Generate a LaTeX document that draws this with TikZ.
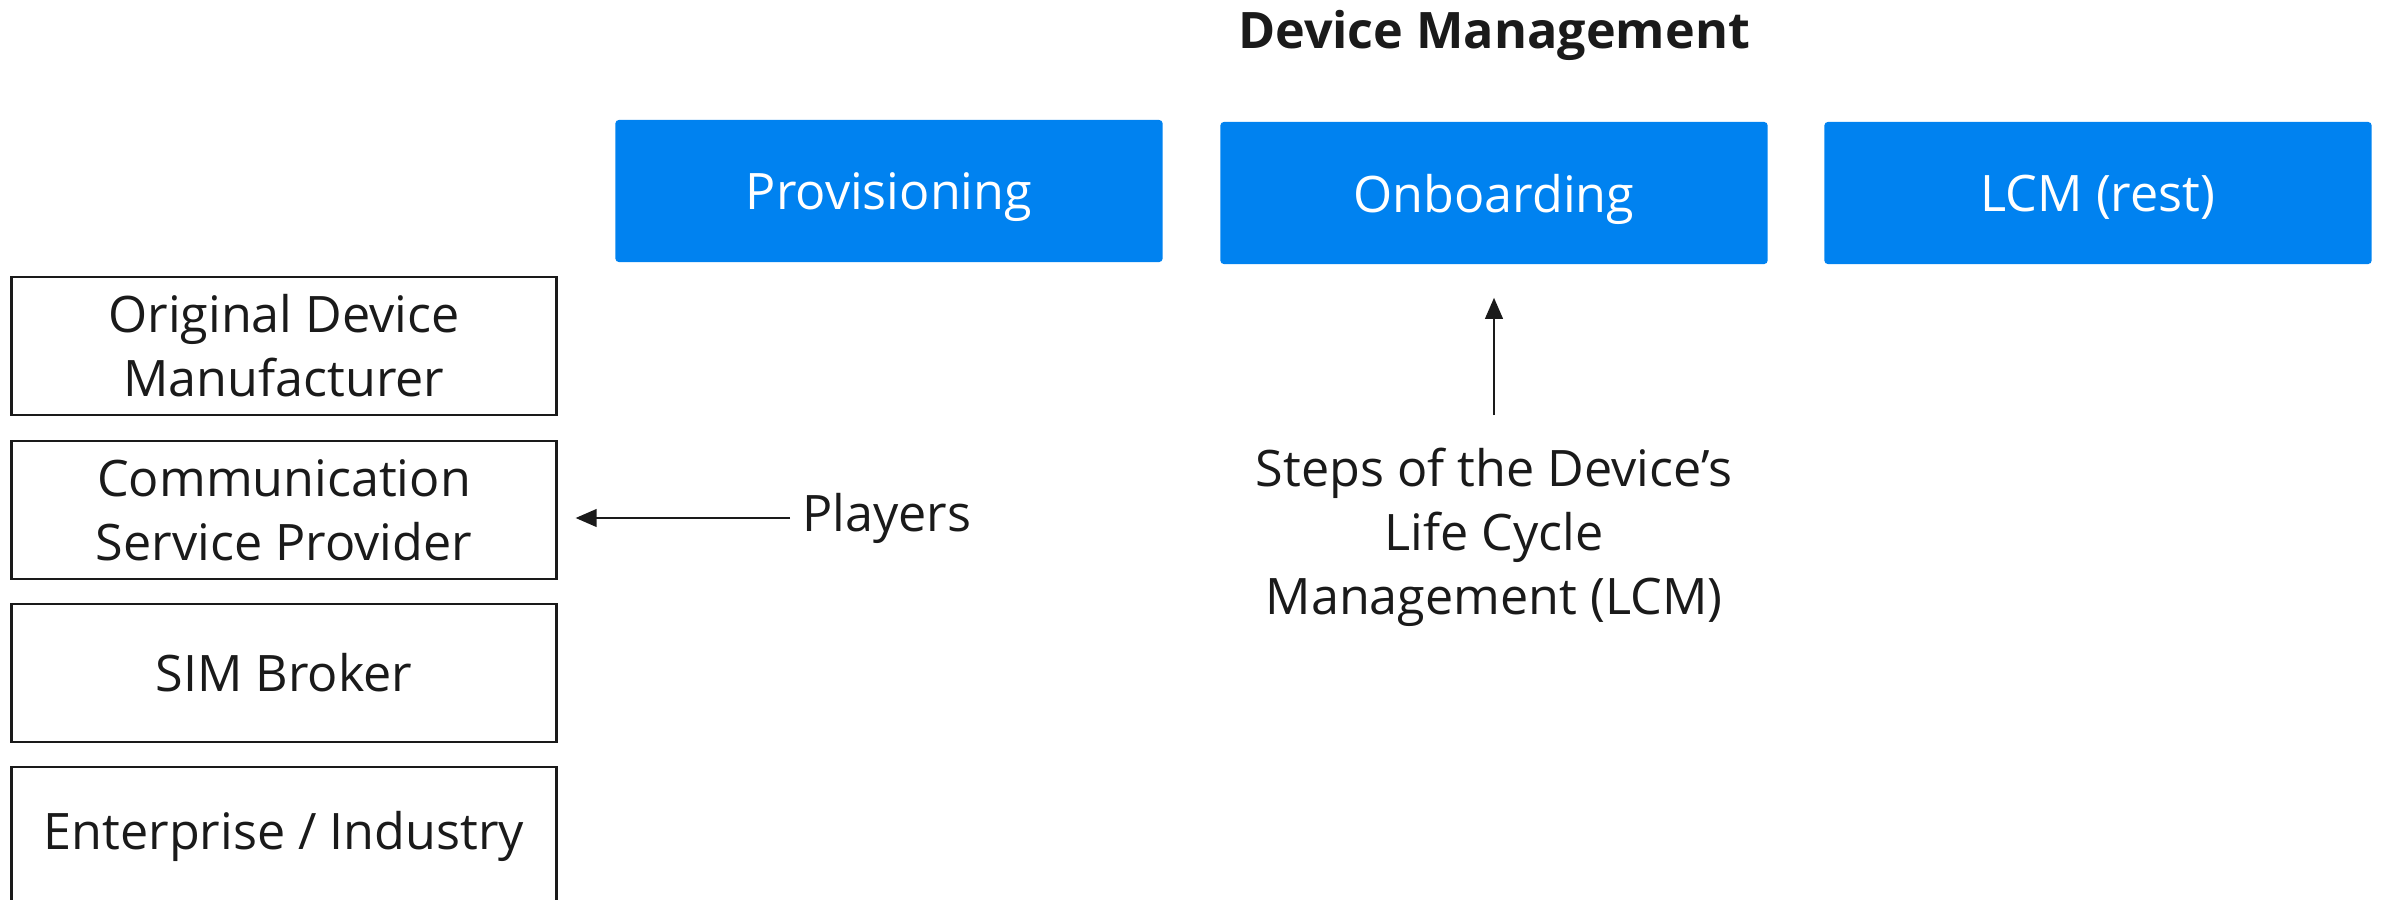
\documentclass[tikz,border=0pt]{standalone}
\usepackage{fontspec}
\setmainfont{Open Sans}
\usetikzlibrary{arrows.meta, positioning}
\definecolor{dmBlue}{HTML}{0082F0}
\definecolor{dmInk}{HTML}{1A1A1A}

\begin{document}
\begin{tikzpicture}[x=0.01cm, y=-0.01cm,
  every node/.style={font=\fontsize{14.3pt}{18.2pt}\selectfont, text=dmInk},
  stepbox/.style={fill=dmBlue, text=white, minimum width=5.47cm, minimum height=1.42cm,
                  inner sep=0pt, text depth=0pt, rounded corners=1pt},
  player/.style={draw=dmInk, line width=0.8pt, minimum width=5.44cm, minimum height=1.38cm,
                 inner sep=0pt, align=center},
  pointer/.style={-{Triangle[length=6pt, width=5pt]}, line width=0.7pt, dmInk}]
  \clip (0,0) rectangle (2384,900);
  % title
  \node[font=\fontsize{14.3pt}{18.2pt}\selectfont\bfseries, anchor=base] (title) at (1494,48) {Device Management};
  % life cycle steps
  \node[stepbox] (prov) at (889,191) {Provisioning};
  \node[stepbox] (onb) at (1494,193) {Onboarding};
  \node[stepbox] (lcm) at (2098,193) {LCM (rest)};
  % players
  \node[player] (odm) at (284,346) {Original Device\\Manufacturer};
  \node[player] (csp) at (284,510) {Communication\\Service Provider};
  \node[player] (sim) at (284,673) {SIM Broker};
  \node[player] (ent) at (284,836) {Enterprise / Industry};
  % annotations
  \node[anchor=west] (players) at (790,518) {Players};
  \node[align=center, anchor=north, inner ysep=0.32cm] (steps) at (1494,415)
    {Steps of the Device’s\\Life Cycle\\Management (LCM)};
  \draw[pointer, shorten >=0.18cm] (players.west) -- (players.west -| csp.east);
  \draw[pointer, shorten >=0.33cm] (steps.north) -- (onb.south);
\end{tikzpicture}
\end{document}
